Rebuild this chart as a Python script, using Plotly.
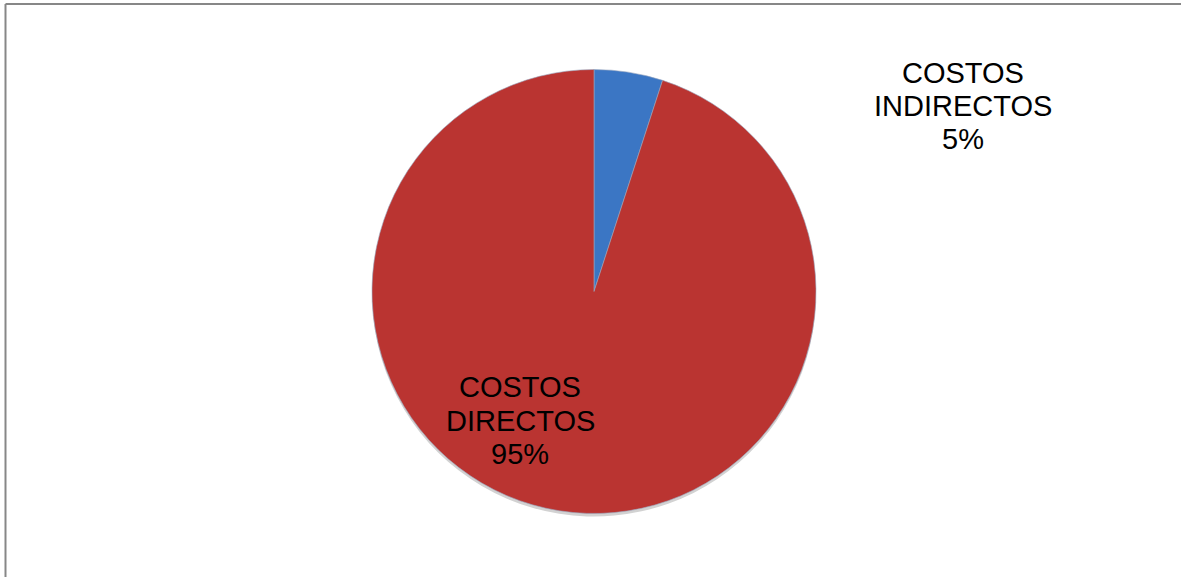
import plotly.graph_objects as go

# Data
labels = ["COSTOS INDIRECTOS", "COSTOS DIRECTOS"]
values = [5, 95]
colors = ["#3B76C4", "#BA3431"]

W, H = 1181, 577
cx, cy, r = 594, 291.5, 222

def dom(dy=0.0):
    return dict(
        x=[(cx - r) / W, (cx + r) / W],
        y=[1 - (cy + r + dy) / H, 1 - (cy - r + dy) / H],
    )

total = sum(values)
label_lines = []
for lab, v in zip(labels, values):
    label_lines.append(lab.split(" ") + [f"{round(100 * v / total)}%"])

fig = go.Figure()
# soft shadow
fig.add_trace(go.Pie(
    labels=labels, values=values, sort=False, direction="clockwise", rotation=0,
    domain=dom(3), marker=dict(colors=["#D2D2D2", "#D2D2D2"], line=dict(width=0)),
    textinfo="none", hoverinfo="skip", showlegend=False,
))
fig.add_trace(go.Pie(
    labels=labels, values=values, sort=False, direction="clockwise", rotation=0,
    domain=dom(0), marker=dict(colors=colors, line=dict(width=0.6, color="#9AA7C0")),
    textinfo="none", showlegend=False,
))

# label positions (pixel centre of middle line)
label_pos = [(963, 106), (520, 420.5)]
pitch = 33.5
for lines, (x, y) in zip(label_lines, label_pos):
    n = len(lines)
    for i, line in enumerate(lines):
        ly = y + (i - (n - 1) / 2) * pitch
        fig.add_annotation(x=x / W, y=1 - ly / H, xref="paper", yref="paper", text=line,
                           showarrow=False, xanchor="center", yanchor="middle",
                           font=dict(family="Liberation Sans, Arial", size=29, color="black"))

# frame lines (top and left)
fig.add_shape(type="line", xref="paper", yref="paper", x0=5.5 / W, x1=1.0, y0=1 - 4 / H, y1=1 - 4 / H,
              line=dict(color="#878787", width=2))
fig.add_shape(type="line", xref="paper", yref="paper", x0=5.5 / W, x1=5.5 / W, y0=0, y1=1 - 4 / H,
              line=dict(color="#878787", width=2))

fig.update_layout(
    width=W, height=H, margin=dict(l=0, r=0, t=0, b=0),
    paper_bgcolor="white", plot_bgcolor="white",
)
fig.write_html("out.html")
